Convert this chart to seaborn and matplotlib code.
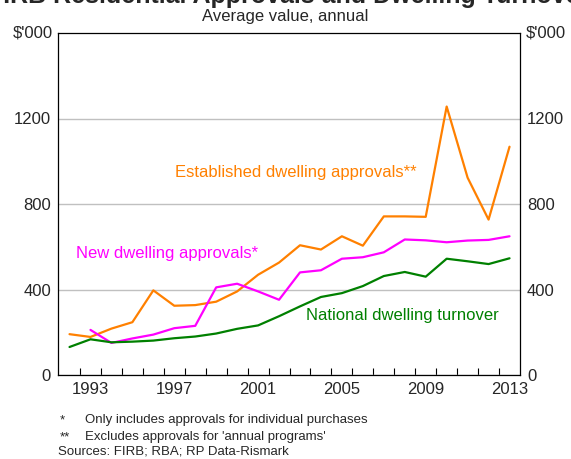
import numpy as np
import pandas as pd
import matplotlib
matplotlib.use("Agg")
import matplotlib.pyplot as plt
import seaborn as sns

# annual average values, $'000
years = list(range(1992, 2014))
established = [191, 178, 217, 247, 396, 324, 327, 343, 391, 469, 526, 607,
               587, 649, 605, 742, 742, 740, 1256, 923, 727, 1068]
new_years = list(range(1993, 2014))
new_dwelling = [211, 150, 171, 189, 219, 230, 410, 427, 391, 352, 480,
                490, 544, 551, 574, 634, 630, 621, 629, 632, 649]
turnover = [131, 167, 153, 156, 161, 172, 180, 194, 216, 232, 275, 321,
            365, 383, 416, 463, 482, 460, 544, 532, 519, 546]

label_years = [1993, 1997, 2001, 2005, 2009, 2013]
y_ticks = [0, 400, 800, 1200]

series_names = ["Established dwelling approvals**", "New dwelling approvals*",
                "National dwelling turnover"]
colours = {"Established dwelling approvals**": "#FF8000",
           "New dwelling approvals*": "#FF00FF",
           "National dwelling turnover": "#008000"}

df = pd.concat([
    pd.DataFrame({"year": years, "value": established, "series": series_names[0]}),
    pd.DataFrame({"year": new_years, "value": new_dwelling, "series": series_names[1]}),
    pd.DataFrame({"year": years, "value": turnover, "series": series_names[2]}),
])
# values plotted mid-year
df["x"] = df["year"] + 0.5

sns.set_style("white")
plt.rcParams["font.family"] = ["Liberation Sans", "DejaVu Sans"]

fig = plt.figure(figsize=(5.71, 4.59), dpi=100)
ax = fig.add_axes([58 / 571, 84 / 459, 462 / 571, 342 / 459])

sns.lineplot(data=df, x="x", y="value", hue="series", palette=colours,
             estimator=None, legend=False, linewidth=1.6, ax=ax, zorder=3)

ax.set_xlim(1991.95, 2014)
ax.set_ylim(0, 1600)
ax.set_xlabel("")
ax.set_ylabel("")

ax.set_xticks(range(1993, 2014))
ax.set_xticklabels([])
ax.set_xticks([y + 0.5 for y in label_years], minor=True)
ax.set_xticklabels([str(y) for y in label_years], minor=True)
ax.tick_params(axis="x", which="major", direction="in", length=5, width=0.8,
               color="black", bottom=True)
ax.tick_params(axis="x", which="minor", length=0, pad=5, labelsize=12)

ax.set_yticks(y_ticks)
ax.set_yticklabels([str(v) for v in y_ticks])
ax.tick_params(axis="y", length=0, labelleft=True, labelright=True,
               labelsize=12, pad=5)
ax.yaxis.grid(True, color="#C0C0C0", linewidth=1)
ax.xaxis.grid(False)
for s in ax.spines.values():
    s.set_visible(True)
    s.set_color("black")
    s.set_linewidth(0.9)

ax.text(-0.012, 1.0, "$'000", transform=ax.transAxes, ha="right", va="center",
        fontsize=12)
ax.text(1.012, 1.0, "$'000", transform=ax.transAxes, ha="left", va="center",
        fontsize=12)

# series labels
ax.text(1997.55, 947, series_names[0], color=colours[series_names[0]],
        fontsize=12, va="center", ha="left")
ax.text(1992.8, 570, series_names[1], color=colours[series_names[1]],
        fontsize=12, va="center", ha="left")
ax.text(2003.8, 278, series_names[2], color=colours[series_names[2]],
        fontsize=12, va="center", ha="left")

fig.text(0.505, 1 - 3 / 459, "FIRB Residential Approvals and Dwelling Turnover",
         ha="center", va="baseline", fontsize=18, fontweight="bold")
fig.text(0.5, 1 - 17 / 459, "Average value, annual", ha="center", va="center",
         fontsize=12)

notes = [("*", "Only includes approvals for individual purchases", 420),
         ("**", "Excludes approvals for 'annual programs'", 437)]
for mark, txt, ypx in notes:
    fig.text(60 / 571, 1 - ypx / 459, mark, ha="left", va="center", fontsize=9.5)
    fig.text(85 / 571, 1 - ypx / 459, txt, ha="left", va="center", fontsize=9.5)
fig.text(58 / 571, 1 - 452 / 459, "Sources: FIRB; RBA; RP Data-Rismark",
         ha="left", va="center", fontsize=9.5)

fig.savefig("out.png", dpi=100)
